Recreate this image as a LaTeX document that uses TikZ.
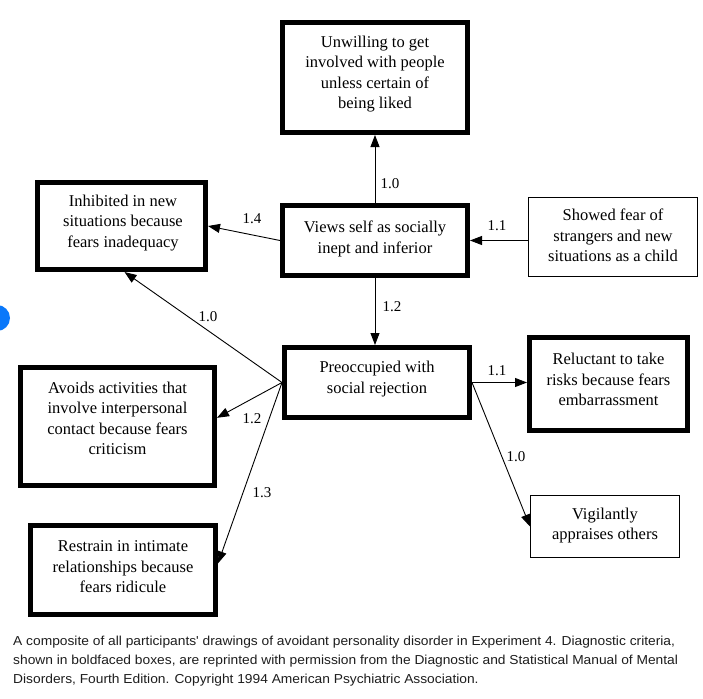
\documentclass[tikz,border=0pt]{standalone}
\usepackage{fontspec}
\setmainfont{Liberation Serif}
\newfontfamily\capfont{Liberation Sans}
\usetikzlibrary{arrows.meta}
\definecolor{dotblue}{RGB}{10,120,250}
\definecolor{captext}{RGB}{30,30,30}
\begin{document}
\begin{tikzpicture}[x=1pt,y=-1pt,
  thickbox/.style={draw=black, line width=5pt, inner sep=0pt},
  thinbox/.style={draw=black, line width=1.3pt, inner sep=0pt},
  boxtext/.style={align=center, font=\fontsize{16.5}{20.5}\selectfont, inner sep=0pt},
  arr/.style={-{Triangle[length=12pt,width=9pt]}, line width=0.9pt},
  wt/.style={font=\fontsize{15}{18}\selectfont, inner sep=0pt}
]
\fill[white] (0,0) rectangle (703,698);
\useasboundingbox (0,0) rectangle (703,698);
\begin{scope}
\clip (0,0) rectangle (703,698);
\fill[dotblue] (-3,318) circle (13);
\end{scope}

% boxes
\node[thickbox, minimum width=185pt, minimum height=110pt] (unw) at (375,77.5) {};
\node[thickbox, minimum width=168pt, minimum height=87pt] (inh) at (121.5,226) {};
\node[thickbox, minimum width=185pt, minimum height=70pt] (views) at (375,240.5) {};
\node[thinbox, minimum width=168.7pt, minimum height=78.7pt] (showed) at (613,237) {};
\node[thickbox, minimum width=185pt, minimum height=70pt] (preo) at (377,382.5) {};
\node[thickbox, minimum width=194pt, minimum height=118pt] (avoids) at (117.5,426.5) {};
\node[thickbox, minimum width=185pt, minimum height=89pt] (restr) at (123,570) {};
\node[thickbox, minimum width=158pt, minimum height=93pt] (rel) at (608.5,384) {};
\node[thinbox, minimum width=148.7pt, minimum height=61.7pt] (vig) at (605,526.5) {};

% texts
\node[boxtext] (tunw) at (375,74) {Unwilling to get\\involved with people\\unless certain of\\being liked};
\node[boxtext] (tinh) at (123,223) {Inhibited in new\\situations because\\fears inadequacy};
\node[boxtext] (tviews) at (375,239) {Views self as socially\\inept and inferior};
\node[boxtext] (tshowed) at (613,235.5) {Showed fear of\\strangers and new\\situations as a child};
\node[boxtext] (tpreo) at (377,379) {Preoccupied with\\social rejection};
\node[boxtext] (tavoids) at (117.5,418.5) {Avoids activities that\\involve interpersonal\\contact because fears\\criticism};
\node[boxtext] (trestr) at (123,567) {Restrain in intimate\\relationships because\\fears ridicule};
\node[boxtext] (trel) at (608.5,379.5) {Reluctant to take\\risks because fears\\embarrassment};
\node[boxtext] (tvig) at (605,525.5) {Vigilantly\\appraises others};

% connectors
\draw[arr] (views.north) -- (unw.south);
\draw[arr] (showed.west |- views.east) -- (views.east);
\draw[arr] (views.west) -- (inh.east);
\draw[arr] (views.south) -- (views.south |- preo.north);
\draw[arr] (preo.east) -- (preo.east -| rel.west);
\draw[arr] (preo.east) -- (vig.west);
\draw[arr] (preo.west) -- ([xshift=3pt]inh.south);
\draw[arr] (preo.west) -- (avoids.5);
\draw[arr] (preo.west) -- (restr.4);

% weights
\node[wt] (w1) at (390,184) {1.0};
\node[wt] (w2) at (497,226) {1.1};
\node[wt] (w3) at (252,219) {1.4};
\node[wt] (w4) at (392,307) {1.2};
\node[wt] (w5) at (208,317) {1.0};
\node[wt] (w6) at (252,419) {1.2};
\node[wt] (w7) at (262,493) {1.3};
\node[wt] (w8) at (497,371) {1.1};
\node[wt] (w9) at (516,457) {1.0};

% caption
\node[anchor=north west, font=\capfont\fontsize{13}{18.7}\selectfont, align=left, inner sep=0pt, text=captext, xscale=1.06, transform shape] (cap) at (13,636) {A composite of all participants' drawings of avoidant personality disorder in Experiment 4. Diagnostic criteria,\\shown in boldfaced boxes, are reprinted with permission from the Diagnostic and Statistical Manual of Mental\\Disorders, Fourth Edition. Copyright 1994 American Psychiatric Association.};
\end{tikzpicture}
\end{document}
